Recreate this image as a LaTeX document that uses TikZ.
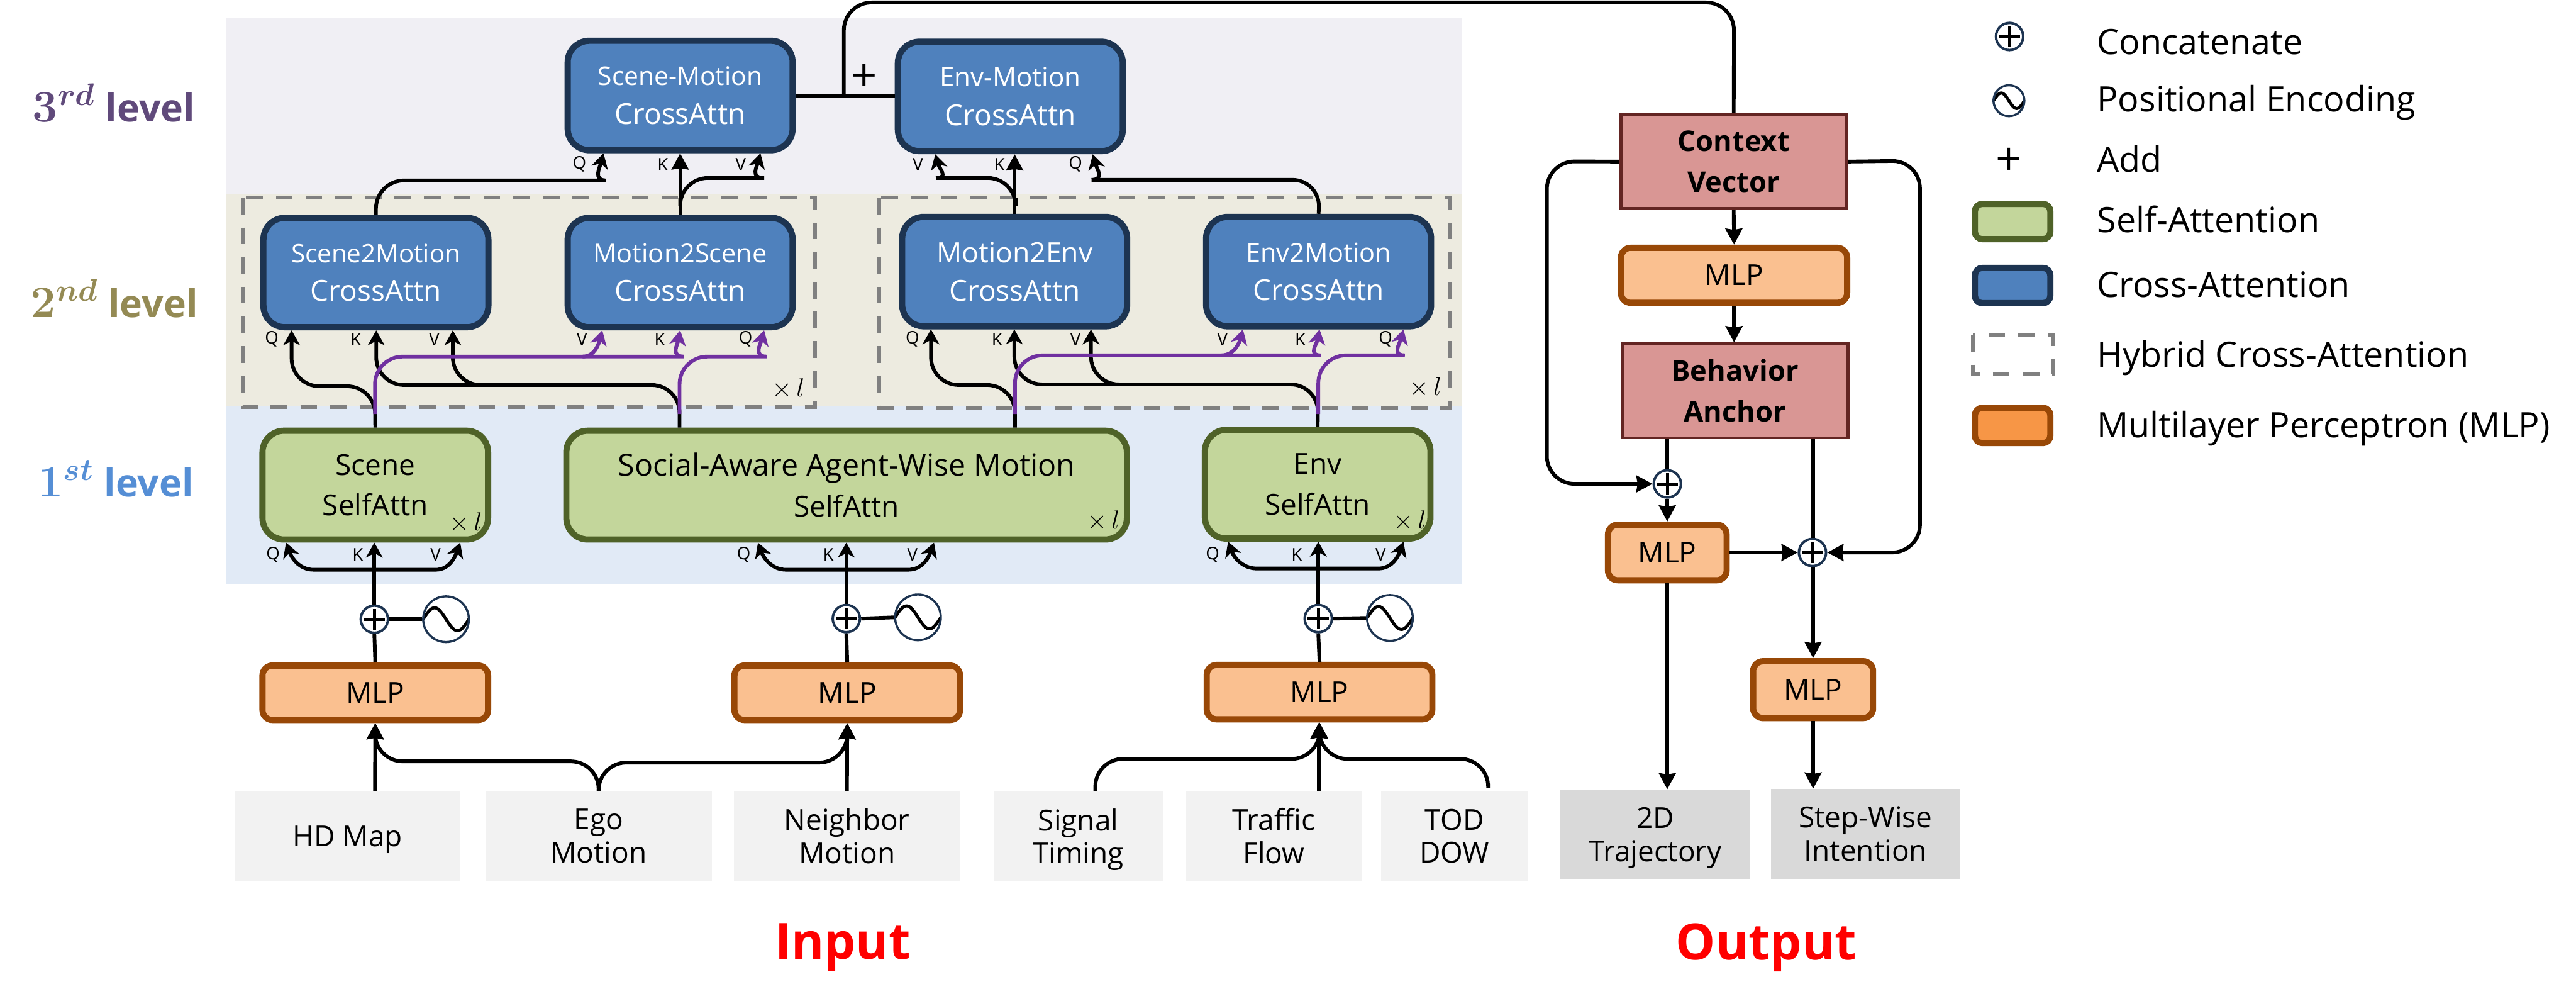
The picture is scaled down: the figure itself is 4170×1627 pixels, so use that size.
\documentclass[tikz,border=0pt]{standalone}
\usepackage[no-math]{fontspec}
\setmainfont{Open Sans}
\usetikzlibrary{arrows.meta}
\definecolor{bandthree}{HTML}{F0EFF4}
\definecolor{bandtwo}{HTML}{EDEBE0}
\definecolor{bandone}{HTML}{E1EAF6}
\definecolor{crossfill}{HTML}{4F81BD}
\definecolor{crossline}{HTML}{1D3451}
\definecolor{selffill}{HTML}{C3D69B}
\definecolor{selfline}{HTML}{4F6228}
\definecolor{mlpfill}{HTML}{FAC090}
\definecolor{mlpline}{HTML}{984807}
\definecolor{mlpleg}{HTML}{F79646}
\definecolor{vecfill}{HTML}{D99694}
\definecolor{vecline}{HTML}{632523}
\definecolor{purpleline}{HTML}{7030A0}
\definecolor{levelthree}{HTML}{604A7B}
\definecolor{leveltwo}{HTML}{948A54}
\definecolor{levelone}{HTML}{558ED5}
\newcommand{\bodysize}{\fontsize{13.3}{17.7}\selectfont}
\newcommand{\smallname}[2][12]{{\fontsize{#1}{17.7}\selectfont #2}}
\tikzset{
  crossbox/.style={rectangle, rounded corners=.35cm, draw=crossline, fill=crossfill, line width=.1cm, text=white, align=center, minimum width=3.64cm, minimum height=1.77cm, font=\bodysize},
  selfbox/.style={rectangle, rounded corners=.35cm, draw=selfline, fill=selffill, line width=.1cm, align=center, minimum width=3.65cm, minimum height=1.76cm, font=\fontsize{13.3}{18.7}\selectfont},
  mlpbox/.style={rectangle, rounded corners=.16cm, draw=mlpline, fill=mlpfill, line width=.1cm, minimum width=3.65cm, minimum height=.88cm, font=\bodysize},
  vecbox/.style={rectangle, draw=vecline, fill=vecfill, line width=.05cm, align=center, minimum width=3.65cm, minimum height=1.52cm, font=\fontsize{13.1}{18.7}\selectfont\bfseries},
  inbox/.style={rectangle, fill=#1, align=center, inner sep=0pt, font=\fontsize{13.3}{15.3}\selectfont},
  concat/.style={circle, draw=crossline, fill=white, line width=.04cm, inner sep=0pt, minimum size=.44cm,
    path picture={\draw[black, line width=.05cm] ([xshift=-.17cm]path picture bounding box.center) -- ([xshift=.17cm]path picture bounding box.center);
      \draw[black, line width=.05cm] ([yshift=-.17cm]path picture bounding box.center) -- ([yshift=.17cm]path picture bounding box.center);}},
  posenc/.style={circle, draw=crossline, fill=white, line width=.035cm, inner sep=0pt, minimum size=2*#1*.01cm,
    path picture={\draw[black, line width=.05cm, shift={(path picture bounding box.center)}] plot[domain=-1:1, samples=40, smooth] (\x*#1, {.5*#1*sin(180*\x)});}},
  hybrid/.style={draw=black!50, line width=.06cm, dash pattern=on .27cm off .21cm},
  link/.style={line width=.06cm, black},
  rc/.style={rounded corners=.45cm},
  purplelink/.style={link, purpleline},
  tri/.style={-{Stealth[length=.26cm, width=.27cm, inset=.02cm]}},
  port/.style={inner sep=0pt, font=\fontsize{8}{8}\selectfont},
  timeslabel/.style={inner sep=0pt, font=\fontsize{11.5}{12}\selectfont},
  addlabel/.style={inner sep=0pt, font=\fontsize{21}{22}\selectfont},
  levellabel/.style={anchor=base west, inner sep=0pt, font=\fontsize{17.6}{20}\selectfont\bfseries},
  bigtext/.style={inner sep=0pt, text=red, font=\fontsize{23}{26}\selectfont\bfseries},
  legendtext/.style={anchor=base west, inner sep=0pt, font=\fontsize{16.1}{18}\selectfont},
  >={Stealth[length=.24cm, width=.27cm, inset=.07cm]}
}
\begin{document}
\begin{tikzpicture}[x=.01cm, y=-.01cm]
  \useasboundingbox (0,0) rectangle (4170,1627);
  % level bands
  \fill[bandthree] (365,29) rectangle (2366,315);
  \fill[bandtwo] (365,315) rectangle (2366,657);
  \fill[bandone] (365,657) rectangle (2366,945);
  \draw[hybrid] (393,320) rectangle (1319,659);
  \draw[hybrid] (1423,320) rectangle (2347,660);
  \node[levellabel, text=levelthree] (levelc) at (52,197) {{\fontsize{22}{24}\selectfont\boldmath$3^{rd}$} level};
  \node[levellabel, text=leveltwo] (levelb) at (49,514) {{\fontsize{22}{24}\selectfont\boldmath$2^{nd}$} level};
  \node[levellabel, text=levelone] (levela) at (61,804) {{\fontsize{22}{24}\selectfont\boldmath$1^{st}$} level};
  % attention blocks
  \node[crossbox] (scenemotion) at (1101,154.5) {\smallname[11.8]{Scene-Motion}\\CrossAttn};
  \node[crossbox] (envmotion) at (1635.5,156) {\smallname[12.2]{Env-Motion}\\CrossAttn};
  \node[crossbox] (scenetwo) at (608.5,441) {\smallname[11.7]{Scene2Motion}\\CrossAttn};
  \node[crossbox] (motionscene) at (1101,441) {\smallname{Motion2Scene}\\CrossAttn};
  \node[crossbox] (motionenv) at (1642.5,439.5) {\smallname[12.9]{Motion2Env}\\CrossAttn};
  \node[crossbox] (envtwo) at (2134.5,439.5) {\smallname{Env2Motion}\\CrossAttn};
  \node[selfbox] (sceneself) at (607.5,785) {Scene\\SelfAttn};
  \node[selfbox, minimum width=9.07cm] (socialself) at (1370.5,785) {{\fontsize{14}{18.7}\selectfont Social-Aware Agent-Wise Motion}\\SelfAttn};
  \node[selfbox] (envself) at (2133,783.5) {Env\\SelfAttn};
  \node[timeslabel] (timesa) at (1276,629) {$\times\,l$};
  \node[timeslabel] (timesb) at (2307,627) {$\times\,l$};
  \node[timeslabel] (timesc) at (754,846) {$\times\,l$};
  \node[timeslabel] (timesd) at (1786,843) {$\times\,l$};
  \node[timeslabel] (timese) at (2282,843) {$\times\,l$};
  % input side
  \node[mlpbox] (mlpscene) at (607.5,1121) {MLP};
  \node[mlpbox] (mlpagent) at (1371.5,1121) {MLP};
  \node[mlpbox] (mlpenv) at (2136,1120) {MLP};
  \node[concat] (concata) at (606,1002) {};
  \node[concat] (concatb) at (1370,1001) {};
  \node[concat] (concatc) at (2134,1001) {};
  \node[posenc=37] (posa) at (722,1002) {};
  \node[posenc=37] (posb) at (1486,999) {};
  \node[posenc=37] (posc) at (2250,1000) {};
  \node[inbox=black!5, minimum width=3.65cm, minimum height=1.44cm] (hdmap) at (562.5,1353) {\raisebox{0pt}[\height][0pt]{HD Map}};
  \node[inbox=black!5, minimum width=3.66cm, minimum height=1.44cm] (ego) at (969,1353) {Ego\\Motion};
  \node[inbox=black!5, minimum width=3.66cm, minimum height=1.44cm] (neighbor) at (1371,1353) {Neighbor\\Motion};
  \node[inbox=black!5, minimum width=2.73cm, minimum height=1.44cm] (signal) at (1745.5,1353) {Signal\\\smash{Timing}};
  \node[inbox=black!5, minimum width=2.84cm, minimum height=1.44cm] (traffic) at (2062,1353) {Traffic\\Flow};
  \node[inbox=black!5, minimum width=2.37cm, minimum height=1.44cm] (tod) at (2354.5,1353) {TOD\\DOW};
  % output side
  \node[vecbox] (context) at (2806.5,261.5) {Context\\Vector};
  \node[mlpbox, minimum width=3.66cm, minimum height=.89cm] (mlpcontext) at (2807,445.5) {MLP};
  \node[vecbox] (behavior) at (2808.5,632.5) {Behavior\\Anchor};
  \node[concat] (concatd) at (2699,783) {};
  \node[concat] (concate) at (2934,894) {};
  \node[mlpbox, minimum width=1.92cm, minimum height=.9cm] (mlptraj) at (2699,894) {MLP};
  \node[mlpbox, minimum width=1.94cm, minimum height=.92cm] (mlpintent) at (2935,1116) {MLP};
  \node[inbox=black!15, minimum width=3.07cm, minimum height=1.44cm] (traj) at (2679.5,1350) {2D\\\smash{Trajectory}};
  \node[inbox=black!15, minimum width=3.06cm, minimum height=1.45cm] (intent) at (3020,1349.5) {Step-Wise\\Intention};
  \node[bigtext] (inputtitle) at (1364,1533) {Input};
  \node[bigtext] (outputtitle) at (2859,1533) {Output};
  % self attention inputs
  \draw[link, <->] (463,0 |- sceneself.south) to[out=-70, in=180] (508,922) -- (705,922) to[out=0, in=-110] (745,0 |- sceneself.south);
  \draw[link, <->] (1227,0 |- socialself.south) to[out=-70, in=180] (1273,922) -- (1470,922) to[out=0, in=-110] (1512,0 |- socialself.south);
  \draw[link, <->] (1988,0 |- envself.south) to[out=-70, in=180] (2035,920) -- (2231,920) to[out=0, in=-110] (2272,0 |- envself.south);
  \draw[link, ->] (concata.north) -- (concata.north |- sceneself.south);
  \draw[link, ->] (concatb.north) -- (concatb.north |- socialself.south);
  \draw[link, ->] (concatc.north) -- (concatc.north |- envself.south);
  \draw[link] (mlpscene.north) -- (concata.south);
  \draw[link] (mlpagent.north) -- (concatb.south);
  \draw[link] (mlpenv.north) -- (concatc.south);
  \draw[link] (concata.east) -- (posa.west);
  \draw[link] (concatb.east) -- (posb.west);
  \draw[link] (concatc.east) -- (posc.west);
  \draw[link, tri] (607,0 |- hdmap.north) -- (mlpscene.south);
  \draw[link, rc, tri] (ego.north) -- (969,1232) -- (607,1232) -- (mlpscene.south);
  \draw[link, rc, tri] (ego.north) -- (969,1234) -- (1371,1234) -- (mlpagent.south);
  \draw[link, tri] (neighbor.north) -- (mlpagent.south);
  \draw[link, rc, tri] (1773,0 |- signal.north) -- (1773,1228) -- (2136,1228) -- (mlpenv.south);
  \draw[link, tri] (2135,0 |- traffic.north) -- (2135,0 |- mlpenv.south);
  \draw[link, rc, tri] (2409,1275) -- (2409,1228) -- (2136,1228) -- (mlpenv.south);
  % hybrid cross attention, scene side
  \draw[link, rc, ->] (sceneself.north) -- (607,625) -- (472,625) -- (472,0 |- scenetwo.south);
  \draw[link, rc, ->] (1100,0 |- socialself.north) -- (1100,623) -- (609,623) -- (609,0 |- scenetwo.south);
  \draw[link, rc, ->] (775,623) -- (733,623) -- (733,0 |- scenetwo.south);
  \draw[purplelink, rc, ->] (607,670) -- (607,577) -- (1062,577) [sharp corners] to[out=0, in=-100] (1101,0 |- motionscene.south);
  \draw[purplelink, ->] (943,577) to[out=0, in=-105] (975,0 |- motionscene.south);
  \draw[purplelink, rc, ->] (1100,670) -- (1100,577) -- (1196,577) [sharp corners] to[out=0, in=-105] (1237,0 |- motionscene.south);
  % hybrid cross attention, env side
  \draw[link, rc, ->] (1643,0 |- socialself.north) -- (1643,623) -- (1507,623) -- (1507,0 |- motionenv.south);
  \draw[link, rc, ->] (envself.north) -- (2134,622) -- (1642,622) -- (1642,0 |- motionenv.south);
  \draw[link, rc, ->] (1812,622) -- (1766,622) -- (1766,0 |- motionenv.south);
  \draw[purplelink, rc, ->] (1643,670) -- (1643,575) -- (2093,575) [sharp corners] to[out=0, in=-100] (2136,0 |- envtwo.south);
  \draw[purplelink, ->] (1977,575) to[out=0, in=-105] (2012,0 |- envtwo.south);
  \draw[purplelink, rc, ->] (2134,670) -- (2134,575) -- (2229,575) [sharp corners] to[out=0, in=-105] (2272,0 |- envtwo.south);
  % third level
  \draw[link, rc, ->] (scenetwo.north) -- (609,292) -- (936,292) [sharp corners] to[out=0, in=-105] (977,0 |- scenemotion.south);
  \draw[link, tri] (motionscene.north) -- (scenemotion.south);
  \draw[link, rc, ->] (1101,320) -- (1101,288) -- (1192,288) [sharp corners] to[out=0, in=-105] (1231,0 |- scenemotion.south);
  \draw[link, tri] (motionenv.north) -- (motionenv.north |- envmotion.south);
  \draw[link, rc, ->] (1644,320) -- (1644,288) -- (1560,288) [sharp corners] to[out=180, in=-75] (1514,0 |- envmotion.south);
  \draw[link, rc, ->] (envtwo.north) -- (2137,291) -- (1812,291) [sharp corners] to[out=180, in=-75] (1769,0 |- envmotion.south);
  \draw[link] (scenemotion.east) -- (scenemotion.east -| envmotion.west);
  \draw[link, rc] (1366,155) -- (1366,4) -- (2807,4) -- (context.north);
  \node[addlabel] (addmark) at (1399,126) {+};
  % output connectors
  \draw[link, tri] (context.south) -- (mlpcontext.north);
  \draw[link, tri] (mlpcontext.south) -- (mlpcontext.south |- behavior.north);
  \draw[link, rc, tri] (context.west) -- (2504,261) -- (2504,783) -- (concatd.west);
  \draw[link, rc, tri] (context.east) -- (3108,260) -- (3108,894) -- (concate.east);
  \draw[link] (2699,0 |- behavior.south) -- (concatd.north);
  \draw[link] (2935,0 |- behavior.south) -- (2935,0 |- concate.north);
  \draw[link, tri] (concatd.south) -- (mlptraj.north);
  \draw[link, tri] (mlptraj.east) -- (concate.west);
  \draw[link, tri] (mlptraj.south) -- (2699,0 |- traj.north);
  \draw[link, tri] (2935,0 |- concate.south) -- (mlpintent.north);
  \draw[link, tri] (mlpintent.south) -- (2935,0 |- intent.north);
  % port labels
  \foreach \lab/\px/\py [count=\i] in {Q/938/266, K/1073/266, V/1199/266, V/1486/266, K/1618/266, Q/1741/266,
      Q/440/549, K/576/549, V/703/549, V/942/549, K/1068/549, Q/1207/549,
      Q/1477/549, K/1614/549, V/1741/549, V/1979/549, K/2105/549, Q/2243/549,
      Q/442/898, K/579/898, V/705/898, Q/1204/898, K/1341/898, V/1477/898, Q/1963/898, K/2099/898, V/2235/898}
    \node[port] (port\i) at (\px,\py) {\lab};
  % legend
  \node[concat] (legconcat) at (3253,59) {};
  \node[posenc=25] (legpos) at (3252,163) {};
  \node[addlabel] (legadd) at (3252,262) {+};
  \node[selfbox, rounded corners=.12cm, minimum width=1.22cm, minimum height=.57cm] (legself) at (3258,358.5) {};
  \node[crossbox, rounded corners=.12cm, minimum width=1.22cm, minimum height=.57cm] (legcross) at (3258,462) {};
  \draw[hybrid] (3194,542) rectangle (3324,606);
  \node[mlpbox, fill=mlpleg, rounded corners=.12cm, minimum width=1.22cm, minimum height=.57cm] (legmlp) at (3258,688.5) {};
  \node[legendtext] (txtconcat) at (3394,88) {Concatenate};
  \node[legendtext] (txtpos) at (3394,181) {Positional Encoding};
  \node[legendtext] (txtadd) at (3394,278) {Add};
  \node[legendtext] (txtself) at (3394,376) {Self-Attention};
  \node[legendtext] (txtcross) at (3394,481) {Cross-Attention};
  \node[legendtext] (txthybrid) at (3394,594) {Hybrid Cross-Attention};
  \node[legendtext] (txtmlp) at (3394,708) {Multilayer Perceptron (MLP)};
\end{tikzpicture}
\end{document}
